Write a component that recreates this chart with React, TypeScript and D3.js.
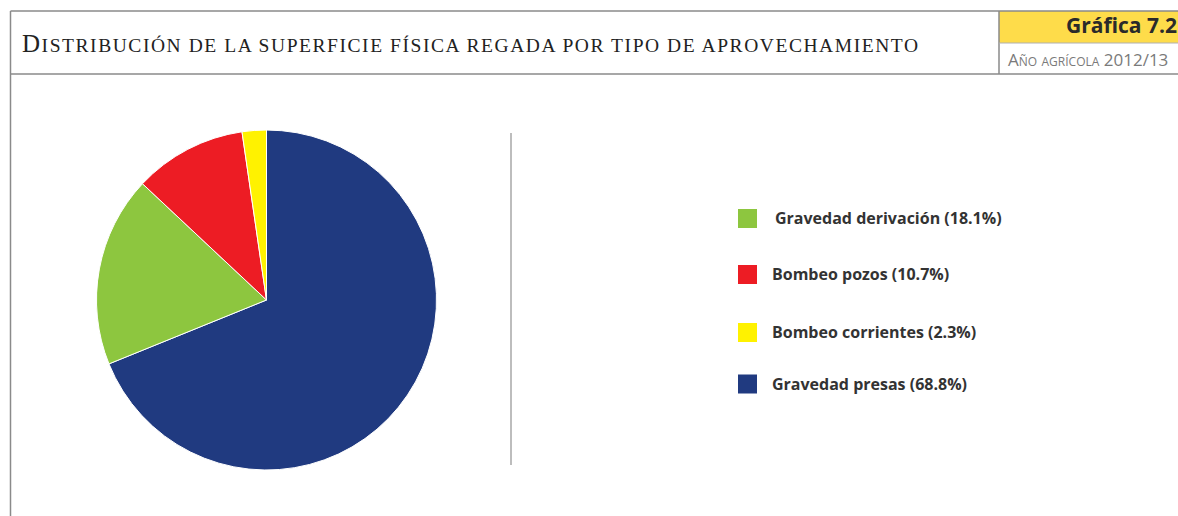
import React from "react";
import * as d3 from "d3";

const categories = ["Gravedad presas", "Gravedad derivación", "Bombeo pozos", "Bombeo corrientes"];
const values = [68.8, 18.1, 10.7, 2.3];
const colors = ["#203a80", "#8dc63f", "#ed1c24", "#fff200"];
const legendOrder = ["Gravedad derivación", "Bombeo pozos", "Bombeo corrientes", "Gravedad presas"];
const legendY = [218.5, 274.5, 332.5, 384];
const title = "Distribución de la superficie física regada por tipo de aprovechamiento";
const chartNumber = "Gráfica 7.2";
const subtitle = "Año agrícola 2012/13";

export default function App() {
  const W = 1178, H = 516;
  const cx = 266.5, cy = 300, r = 170;
  const pie = d3.pie<number>().sort(null).value((d) => d)(values);
  const arc = d3.arc<d3.PieArcDatum<number>>().innerRadius(0).outerRadius(r);
  const color = d3.scaleOrdinal<string, string>().domain(categories).range(colors);
  return (
    <svg width={W} height={H} style={{ position: "absolute", left: 0, top: 0, background: "#fff" }}>
      {/* header frame */}
      <rect x={999} y={11} width={W - 999} height={32} fill="#fedc4a" />
      <line x1={10.5} y1={11} x2={W} y2={11} stroke="#8a8a8a" strokeWidth={1.5} />
      <line x1={10.5} y1={74} x2={W} y2={74} stroke="#8a8a8a" strokeWidth={1.5} />
      <line x1={10.5} y1={11} x2={10.5} y2={H} stroke="#8a8a8a" strokeWidth={1.5} />
      <line x1={999} y1={11} x2={999} y2={74} stroke="#8a8a8a" strokeWidth={1.5} />
      <line x1={999} y1={43} x2={W} y2={43} stroke="#b0b0b0" strokeWidth={1} />
      <text x={22} y={52} fontFamily="Liberation Serif, DejaVu Serif, serif" fill="#222"
        textLength={896} lengthAdjust="spacing">
        <tspan fontSize={25}>{title.charAt(0)}</tspan>
        <tspan fontSize={19.5} style={{ textTransform: "uppercase" }}>{title.slice(1)}</tspan>
      </text>
      <text x={1066} y={33} fontFamily="Open Sans, sans-serif" fontWeight={700} fontSize={21} fill="#2a2a2a">{chartNumber}</text>
      <text x={1008} y={66} fontFamily="Open Sans, sans-serif" fontSize={17}
        style={{ fontVariant: "small-caps" }} fill="#7a7a7a">{subtitle}</text>
      {/* separator */}
      <line x1={511} y1={133} x2={511} y2={465} stroke="#bdbdbd" strokeWidth={2} />
      {/* pie */}
      <g transform={`translate(${cx},${cy})`}>
        {pie.map((d, i) => (
          <path key={categories[i]} d={arc(d) || ""} fill={color(categories[i])} stroke="#fff" strokeWidth={1} />
        ))}
      </g>
      {/* legend */}
      {legendOrder.map((name, i) => {
        const idx = categories.indexOf(name);
        return (
          <g key={name}>
            <rect x={738} y={legendY[i] - 9.5} width={19} height={19} fill={color(name)} />
            <text x={i === 0 ? 775 : 772} y={legendY[i] + 5.5} fontFamily="Open Sans, sans-serif" fontWeight={700}
              fontSize={16} fill="#333">{`${name} (${values[idx]}%)`}</text>
          </g>
        );
      })}
    </svg>
  );
}
